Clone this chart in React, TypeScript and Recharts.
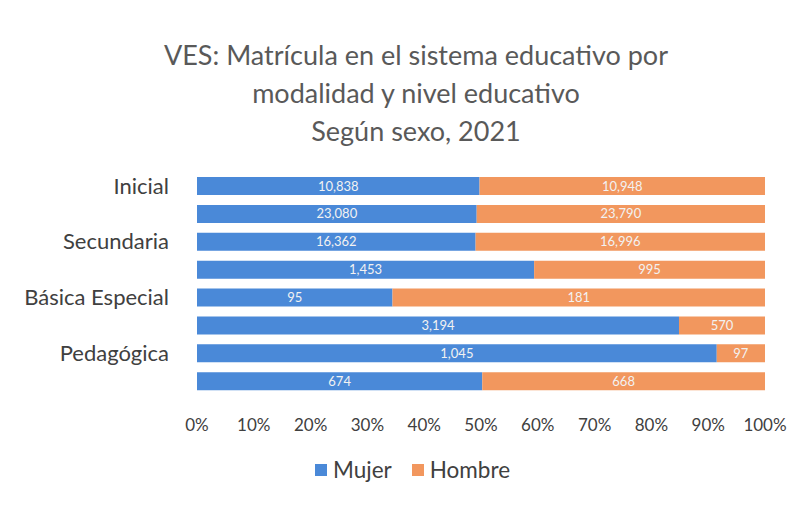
import { BarChart, Bar, XAxis, YAxis, LabelList } from "recharts";

const categories = [
  "Inicial",
  "Primaria",
  "Secundaria",
  "Básica Alternativa",
  "Básica Especial",
  "Técnico-Productiva",
  "Pedagógica",
  "Tecnológica",
];
const mujer = [10838, 23080, 16362, 1453, 95, 3194, 1045, 674];
const hombre = [10948, 23790, 16996, 995, 181, 570, 97, 668];
const xTicks = [0, 0.1, 0.2, 0.3, 0.4, 0.5, 0.6, 0.7, 0.8, 0.9, 1];
const titleLines = [
  "VES: Matrícula en el sistema educativo por",
  "modalidad y nivel educativo",
  "Según sexo, 2021",
];
const legendItems = ["Mujer", "Hombre"];

const BLUE = "#4a89d8";
const ORANGE = "#f2975e";
const FONT = "Lato, 'Open Sans', sans-serif";

const data = categories.map((name, i) => ({ name, mujer: mujer[i], hombre: hombre[i] }));

const fmt = (v: unknown) => Number(v).toLocaleString("en-US");

export default function App() {
  const colors = [BLUE, ORANGE];
  return (
    <div style={{ position: "absolute", left: 0, top: 0, width: 806, height: 513, background: "#fff" }}>
      <div
        style={{
          position: "absolute",
          top: 36,
          left: 0,
          width: 832,
          textAlign: "center",
          fontFamily: FONT,
          fontSize: 27,
          lineHeight: "38px",
          color: "#595959",
        }}
      >
        {titleLines.map((t) => (
          <div key={t}>{t}</div>
        ))}
      </div>
      <BarChart
        width={806}
        height={513}
        data={data}
        layout="vertical"
        stackOffset="expand"
        barSize={18}
        margin={{ top: 172, right: 41, left: 0, bottom: 78 }}
      >
        <XAxis
          type="number"
          domain={[0, 1]}
          ticks={xTicks}
          tickFormatter={(v: number) => `${Math.round(v * 100)}%`}
          axisLine={false}
          tickLine={false}
          tickMargin={18}
          height={40}
          tick={{ fontFamily: FONT, fontSize: 17, fill: "#404040" }}
        />
        <YAxis
          type="category"
          dataKey="name"
          width={197}
          interval={1}
          axisLine={false}
          tickLine={false}
          tickMargin={22}
          tick={{ fontFamily: FONT, fontSize: 22, fill: "#404040" }}
        />
        <Bar dataKey="mujer" name="Mujer" stackId="a" fill={BLUE} isAnimationActive={false}>
          <LabelList dataKey="mujer" position="center" formatter={fmt} fill="#f2f2f2" fontSize={13} fontFamily={FONT} />
        </Bar>
        <Bar dataKey="hombre" name="Hombre" stackId="a" fill={ORANGE} isAnimationActive={false}>
          <LabelList dataKey="hombre" position="center" formatter={fmt} fill="#f2f2f2" fontSize={13} fontFamily={FONT} />
        </Bar>
      </BarChart>
      <div
        style={{
          position: "absolute",
          top: 456,
          left: 315,
          display: "flex",
          gap: 20,
          fontFamily: FONT,
          fontSize: 22.5,
          color: "#404040",
        }}
      >
        {legendItems.map((label, i) => (
          <div key={label} style={{ display: "flex", alignItems: "center", gap: 6 }}>
            <span style={{ width: 12, height: 12, background: colors[i], display: "inline-block" }} />
            <span>{label}</span>
          </div>
        ))}
      </div>
    </div>
  );
}
